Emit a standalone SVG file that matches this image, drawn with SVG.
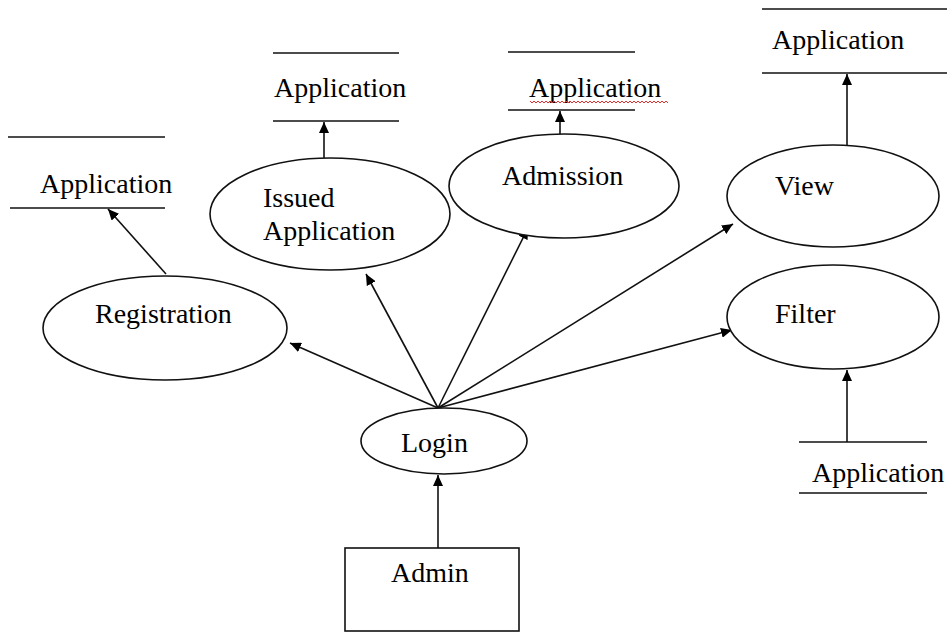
<svg xmlns="http://www.w3.org/2000/svg" width="947" height="633" viewBox="0 0 947 633">
<defs>
<marker id="arr" markerUnits="userSpaceOnUse" markerWidth="12" markerHeight="10" refX="11" refY="5" orient="auto">
<path d="M0,0 L11,5 L0,10 Z" fill="#000"/>
</marker>
<style>
.t{font-family:"Liberation Serif","Times New Roman",serif;font-size:28px;fill:#000}
.sh{fill:#fff;stroke:#111;stroke-width:1.6}
.st{stroke:#111;stroke-width:1.6;fill:none}
.c{stroke:#111;stroke-width:1.6;fill:none;marker-end:url(#arr)}
</style>
</defs>
<rect width="947" height="633" fill="#fff"/>

<g id="connectors">
<line class="c" x1="438" y1="548" x2="438" y2="475"/>
<line class="c" x1="438" y1="408" x2="290" y2="343"/>
<line class="c" x1="438" y1="408" x2="366" y2="274"/>
<line class="c" x1="438" y1="408" x2="528" y2="228"/>
<line class="c" x1="438" y1="408" x2="733" y2="224"/>
<line class="c" x1="438" y1="408" x2="732" y2="330"/>
<line class="c" x1="166" y1="274" x2="108" y2="209"/>
<line class="c" x1="324" y1="158" x2="324" y2="122"/>
<line class="c" x1="560" y1="134" x2="560" y2="111"/>
<line class="c" x1="847" y1="145" x2="847" y2="74"/>
<line class="c" x1="847" y1="442" x2="847" y2="370"/>
</g>

<g id="admin">
<rect class="sh" x="345" y="548" width="174" height="83"/>
<text class="t" x="391" y="582">Admin</text>
</g>

<g id="login">
<ellipse class="sh" cx="444" cy="441" rx="83" ry="33"/>
<text class="t" x="401" y="452">Login</text>
</g>

<g id="registration">
<ellipse class="sh" cx="165" cy="328" rx="122" ry="52"/>
<text class="t" x="95" y="323">Registration</text>
</g>

<g id="issued">
<ellipse class="sh" cx="330" cy="214" rx="120" ry="56"/>
<text class="t" x="263" y="207">Issued</text>
<text class="t" x="263" y="240">Application</text>
</g>

<g id="admission">
<ellipse class="sh" cx="564" cy="186" rx="115" ry="52"/>
<text class="t" x="502" y="185">Admission</text>
</g>

<g id="view">
<ellipse class="sh" cx="833" cy="196" rx="106" ry="51"/>
<text class="t" x="775" y="195">View</text>
</g>

<g id="filter">
<ellipse class="sh" cx="833" cy="317" rx="106" ry="52"/>
<text class="t" x="775" y="323">Filter</text>
</g>

<g id="store-registration">
<line class="st" x1="8" y1="137" x2="165" y2="137"/>
<line class="st" x1="10" y1="208" x2="165" y2="208"/>
<text class="t" x="40" y="193">Application</text>
</g>

<g id="store-issued">
<line class="st" x1="273" y1="53" x2="399" y2="53"/>
<line class="st" x1="273" y1="121" x2="399" y2="121"/>
<text class="t" x="274" y="97">Application</text>
</g>

<g id="store-admission">
<line class="st" x1="508" y1="52" x2="635" y2="52"/>
<line class="st" x1="508" y1="110" x2="635" y2="110"/>
<text class="t" x="529" y="97">Application</text>
<path d="M530,101 l2,2 l2,-2 l2,2 l2,-2 l2,2 l2,-2 l2,2 l2,-2 l2,2 l2,-2 l2,2 l2,-2 l2,2 l2,-2 l2,2 l2,-2 l2,2 l2,-2 l2,2 l2,-2 l2,2 l2,-2 l2,2 l2,-2 l2,2 l2,-2 l2,2 l2,-2 l2,2 l2,-2 l2,2 l2,-2 l2,2 l2,-2 l2,2 l2,-2 l2,2 l2,-2 l2,2 l2,-2 l2,2 l2,-2 l2,2 l2,-2 l2,2 l2,-2 l2,2 l2,-2 l2,2 l2,-2 l2,2 l2,-2 l2,2 l2,-2 l2,2 l2,-2 l2,2 l2,-2 l2,2 l2,-2 l2,2 l2,-2 l2,2 l2,-2 l2,2 l2,-2 l2,2 l2,-2 l2,2" fill="none" stroke="#e03030" stroke-width="1"/>
</g>

<g id="store-view">
<line class="st" x1="762" y1="9" x2="947" y2="9"/>
<line class="st" x1="762" y1="73" x2="947" y2="73"/>
<text class="t" x="772" y="49">Application</text>
</g>

<g id="store-filter">
<line class="st" x1="799" y1="442" x2="927" y2="442"/>
<line class="st" x1="799" y1="493" x2="927" y2="493"/>
<text class="t" x="812" y="482">Application</text>
</g>
</svg>
